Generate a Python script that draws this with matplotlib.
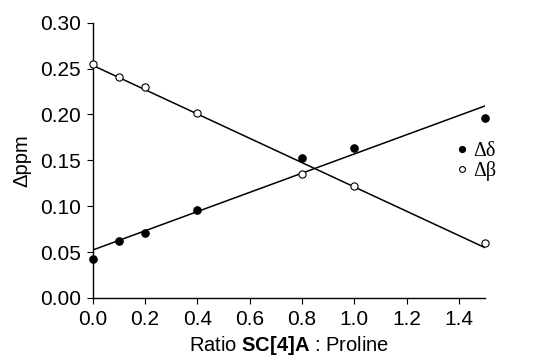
import numpy as np
import matplotlib
matplotlib.use("Agg")
import matplotlib.pyplot as plt
from matplotlib.lines import Line2D

plt.rcParams['font.family'] = ['Liberation Sans', 'DejaVu Sans']
plt.rcParams['mathtext.fontset'] = 'custom'
plt.rcParams['mathtext.rm'] = 'Liberation Sans'
plt.rcParams['mathtext.bf'] = 'Liberation Sans:bold'

ratio = [0.0, 0.1, 0.2, 0.4, 0.8, 1.0, 1.5]
delta_delta = [0.043, 0.0625, 0.071, 0.096, 0.153, 0.163, 0.196]
delta_beta = [0.255, 0.241, 0.230, 0.201, 0.135, 0.122, 0.060]
xticks = [0.0, 0.2, 0.4, 0.6, 0.8, 1.0, 1.2, 1.4]
yticks = [0.00, 0.05, 0.10, 0.15, 0.20, 0.25, 0.30]

fig = plt.figure(figsize=(5.52, 3.59), dpi=100)
ax = fig.add_axes([0.168, 0.170, 0.711, 0.767])

x = np.array(ratio)
xl = np.array([0.0, 1.5])
for ys in (delta_delta, delta_beta):
    p = np.polyfit(x, np.array(ys), 1)
    ax.plot(xl, np.polyval(p, xl), color='black', lw=1.1, zorder=2)

ax.plot(ratio, delta_delta, 'o', ms=5.2, mfc='black', mec='black', zorder=3, clip_on=False)
ax.plot(ratio, delta_beta, 'o', ms=5.2, mfc='white', mec='black', mew=0.8, zorder=3, clip_on=False)

ax.set_xlim(0, 1.5)
ax.set_ylim(0, 0.30)
ax.set_xticks(xticks)
ax.set_xticklabels([f"{v:.1f}" for v in xticks])
ax.set_yticks(yticks)
ax.set_yticklabels([f"{v:.2f}" for v in yticks])
for s in ('top', 'right'):
    ax.spines[s].set_visible(False)
for s in ('left', 'bottom'):
    ax.spines[s].set_linewidth(1.0)
ax.tick_params(direction='out', length=4.5, width=0.8, labelsize=15, pad=4)

ax.set_ylabel('Δppm', fontsize=14.5, labelpad=6)
ax.set_xlabel(r'Ratio $\mathbf{SC[4]A}$ : Proline', fontsize=14.5, labelpad=4)

handles = [Line2D([], [], ls='none', marker='o', ms=4.2, mfc='black', mec='black'),
           Line2D([], [], ls='none', marker='o', ms=4.2, mfc='white', mec='black', mew=0.8)]
fig.legend(handles, ['Δδ', 'Δβ'], loc='center left', bbox_to_anchor=(0.79, 0.55),
           frameon=False, handletextpad=0.15, handlelength=0.8, labelspacing=0.0,
           prop={'family': 'Liberation Serif', 'size': 14.5})

fig.savefig('out.png', dpi=100)
